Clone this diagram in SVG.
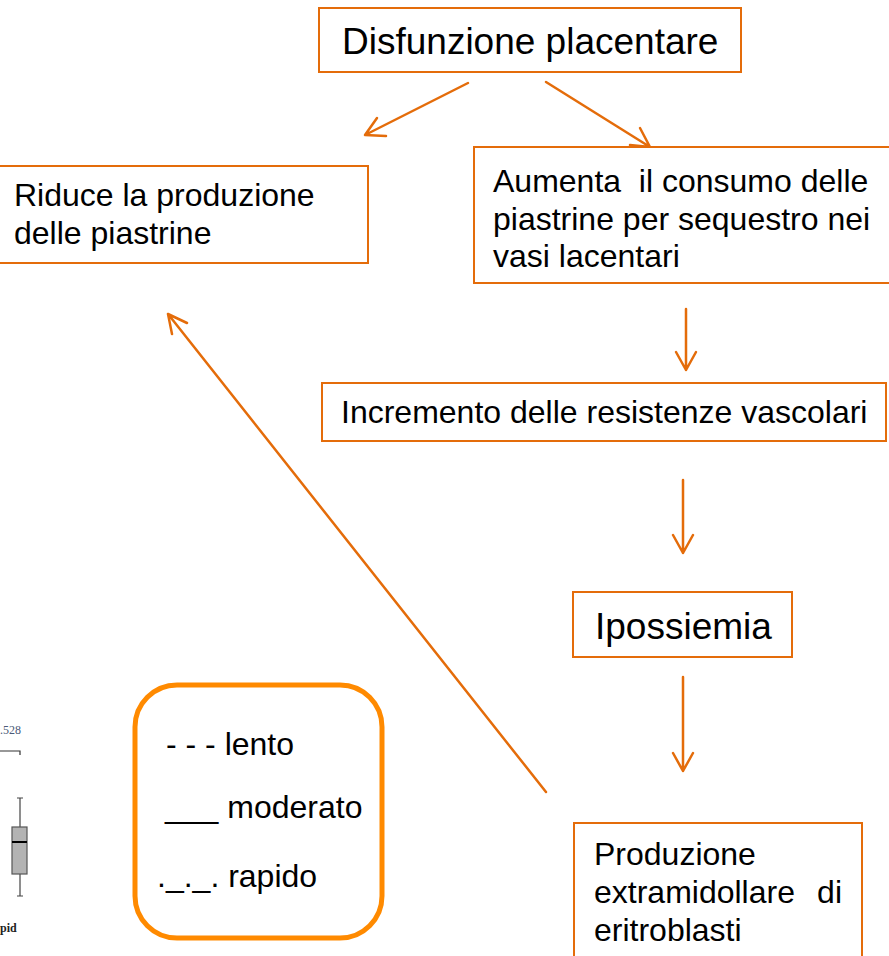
<svg xmlns="http://www.w3.org/2000/svg" width="889" height="956" viewBox="0 0 889 956">
<style>
.box{fill:#fff;stroke:#E46C0A;stroke-width:2}
.t{font-family:"Liberation Sans",Arial,sans-serif;font-size:32px;fill:#000}
.big{font-size:37px}
.con{fill:none;stroke:#E46C0A;stroke-width:2.5;stroke-linecap:round;stroke-linejoin:round}
.leg{fill:#fff;stroke:#FF8A00;stroke-width:5}
.bp{font-family:"Liberation Serif","Times New Roman",serif;font-size:12px}
</style>
<rect width="889" height="956" fill="#fff"/>
<g id="boxplot-fragment">
<text class="bp" x="0" y="734" fill="#4a5a78">.528</text>
<path d="M0 751H20V755" fill="none" stroke="#333" stroke-width="1.2"/>
<path d="M17 798H23M20 798V827M20 874V896M17 896H23" fill="none" stroke="#444" stroke-width="1.2"/>
<rect x="12" y="827" width="15" height="47" fill="#b3b3b3" stroke="#555" stroke-width="1.2"/>
<path d="M12 842H27" stroke="#000" stroke-width="2"/>
<text class="bp" x="0" y="932" fill="#222" font-weight="bold">pid</text>
</g>
<g id="connectors">
<path class="con" d="M468 83L365 135M377 118L365 135L386 136"/>
<path class="con" d="M546 82L650 147M640 128L650 147L630 145"/>
<path class="con" d="M686 309V370M676 352L686 370L696 352"/>
<path class="con" d="M683 480V553M673 535L683 553L693 535"/>
<path class="con" d="M683 677V771M673 753L683 771L693 753"/>
<path class="con" d="M546 792L168 314M172 334L168 314L187 323"/>
</g>
<g id="n-disfunzione">
<rect class="box" x="319" y="8" width="422" height="64"/>
<text class="t big" x="342" y="54">Disfunzione placentare</text>
</g>
<g id="n-riduce">
<rect class="box" x="-2" y="166" width="370" height="97"/>
<text class="t" x="14" y="206">Riduce la produzione</text>
<text class="t" x="14" y="244">delle piastrine</text>
</g>
<g id="n-aumenta">
<rect class="box" x="474" y="147" width="420" height="136"/>
<text class="t" x="493" y="192" xml:space="preserve">Aumenta  il consumo delle</text>
<text class="t" x="493" y="230">piastrine per sequestro nei</text>
<text class="t" x="493" y="267">vasi lacentari</text>
</g>
<g id="n-incremento">
<rect class="box" x="322" y="383" width="564" height="58"/>
<text class="t" x="341" y="423">Incremento delle resistenze vascolari</text>
</g>
<g id="n-ipossiemia">
<rect class="box" x="573" y="592" width="219" height="65"/>
<text class="t big" x="595" y="639">Ipossiemia</text>
</g>
<g id="n-produzione">
<rect class="box" x="574" y="823" width="288" height="150"/>
<text class="t" x="594" y="865">Produzione</text>
<text class="t" x="594" y="903">extramidollare</text>
<text class="t" x="842" y="903" text-anchor="end">di</text>
<text class="t" x="594" y="941">eritroblasti</text>
</g>
<g id="legend">
<rect class="leg" x="135" y="685" width="247" height="253" rx="42"/>
<text class="t" x="166" y="755">- - - lento</text>
<text class="t" x="165" y="818">___ moderato</text>
<text class="t" x="157" y="887">._._. rapido</text>
</g>
</svg>
